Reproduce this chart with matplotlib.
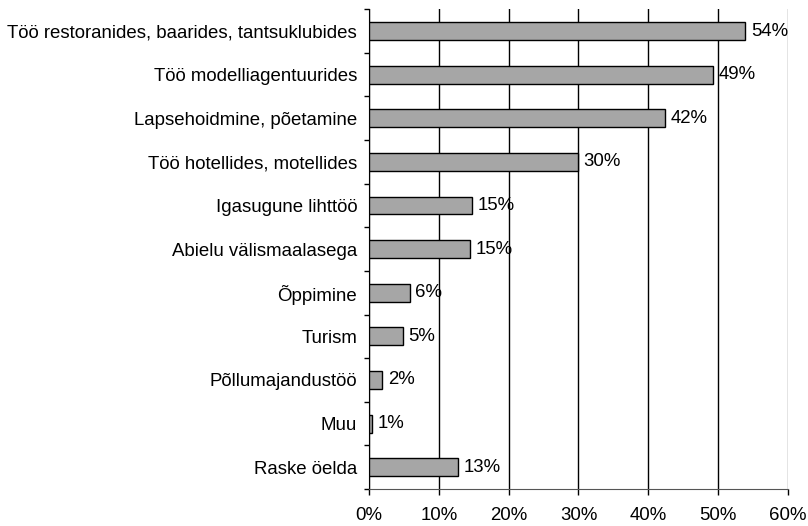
import matplotlib
matplotlib.use('Agg')
import matplotlib.pyplot as plt
import numpy as np

categories = ['Töö restoranides, baarides, tantsuklubides', 'Töö modelliagentuurides',
              'Lapsehoidmine, põetamine', 'Töö hotellides, motellides', 'Igasugune lihttöö',
              'Abielu välismaalasega', 'Õppimine', 'Turism', 'Põllumajandustöö', 'Muu',
              'Raske öelda']
values = [53.9, 49.3, 42.4, 29.9, 14.7, 14.5, 5.8, 4.8, 1.9, 0.4, 12.7]
labels = ['54%', '49%', '42%', '30%', '15%', '15%', '6%', '5%', '2%', '1%', '13%']
xticks = [0, 10, 20, 30, 40, 50, 60]

plt.rcParams['font.family'] = ['Liberation Sans', 'DejaVu Sans']
plt.rcParams['font.size'] = 13.4

fig = plt.figure(figsize=(8.08, 5.26), dpi=100)
ax = fig.add_axes([0.4567, 0.0703, 0.5185, 0.9122])

y = np.arange(len(categories))
ax.barh(y, values, height=0.41, color='#a6a6a6', edgecolor='black', linewidth=1, zorder=3)
for yi, v, lab in zip(y, values, labels):
    ax.text(v + 0.8, yi, lab, va='center', ha='left', zorder=4)

ax.set_xlim(0, 60)
ax.set_ylim(len(categories) - 0.5, -0.5)
ax.set_xticks(xticks)
ax.set_xticklabels([f'{t}%' for t in xticks])
ax.set_yticks(y)
ax.set_yticklabels(categories)
ax.set_yticks(np.arange(len(categories) + 1) - 0.5, minor=True)
ax.tick_params(axis='y', which='major', length=0, pad=8.5)
ax.tick_params(axis='y', which='minor', length=3.6, width=1, direction='out')
ax.tick_params(axis='x', length=4.3, width=1, direction='out', pad=9)

ax.xaxis.grid(True, color='black', linewidth=1, zorder=0)
ax.get_xgridlines()[-1].set_color('#777777')
for s in ['top', 'right']:
    ax.spines[s].set_visible(False)
ax.spines['left'].set_color('black')
ax.spines['bottom'].set_color('#555555')

fig.savefig('out.png', dpi=100)
